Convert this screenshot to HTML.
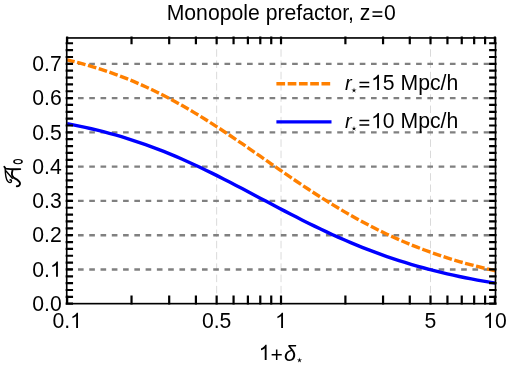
<!DOCTYPE html>
<html><head><meta charset="utf-8"><title>Monopole prefactor</title>
<style>
html,body{margin:0;padding:0;background:#fff;}
body{width:508px;height:366px;overflow:hidden;font-family:"Liberation Sans",sans-serif;}
svg{display:block}
text{font-family:"Liberation Sans",sans-serif;font-size:21.2px;fill:#000}
.it{font-style:italic}
</style></head><body>
<svg width="508" height="366" viewBox="0 0 508 366">
<defs><filter id="g" x="0" y="0" width="508" height="366" filterUnits="userSpaceOnUse"><feOffset dx="0" dy="0"/></filter></defs>
<rect width="508" height="366" fill="#fff"/>
<g filter="url(#g)">

<g stroke="#d6d6d6" stroke-width="0.9" stroke-dasharray="7.5 3.77" fill="none">
<line x1="216.64" y1="37.96" x2="216.64" y2="303.65"/>
<line x1="281.02" y1="37.96" x2="281.02" y2="303.65"/>
<line x1="430.51" y1="37.96" x2="430.51" y2="303.65"/>
</g>
<g stroke="#808080" stroke-width="2.4" stroke-dasharray="5.635 5.635" fill="none">
<line x1="66.72" y1="269.45" x2="495.5" y2="269.45"/>
<line x1="66.72" y1="235.18" x2="495.5" y2="235.18"/>
<line x1="66.72" y1="200.91" x2="495.5" y2="200.91"/>
<line x1="66.72" y1="166.64" x2="495.5" y2="166.64"/>
<line x1="66.72" y1="132.37" x2="495.5" y2="132.37"/>
<line x1="66.72" y1="98.10" x2="495.5" y2="98.10"/>
<line x1="66.72" y1="63.83" x2="495.5" y2="63.83"/>
</g>
<path d="M67.15,59.82 L73.18,61.31 L79.22,62.88 L85.25,64.54 L91.28,66.30 L97.32,68.15 L103.35,70.10 L109.38,72.15 L115.41,74.31 L121.45,76.57 L127.48,78.95 L133.51,81.43 L139.55,84.03 L145.58,86.74 L151.61,89.56 L157.65,92.49 L163.68,95.53 L169.71,98.69 L175.75,101.95 L181.78,105.32 L187.81,108.79 L193.85,112.35 L199.88,116.01 L205.91,119.76 L211.94,123.59 L217.98,127.49 L224.01,131.46 L230.04,135.49 L236.08,139.57 L242.11,143.69 L248.14,147.85 L254.18,152.03 L260.21,156.23 L266.24,160.43 L272.28,164.63 L278.31,168.82 L284.34,172.99 L290.37,177.13 L296.41,181.23 L302.44,185.28 L308.47,189.29 L314.51,193.23 L320.54,197.11 L326.57,200.91 L332.61,204.64 L338.64,208.29 L344.67,211.85 L350.71,215.32 L356.74,218.70 L362.77,221.99 L368.80,225.17 L374.84,228.27 L380.87,231.26 L386.90,234.16 L392.94,236.95 L398.97,239.65 L405.00,242.25 L411.04,244.76 L417.07,247.17 L423.10,249.49 L429.14,251.71 L435.17,253.85 L441.20,255.90 L447.24,257.86 L453.27,259.74 L459.30,261.54 L465.33,263.26 L471.37,264.90 L477.40,266.48 L483.43,267.98 L489.47,269.41 L495.50,270.78" fill="none" stroke="#ff8000" stroke-width="3.4" stroke-dasharray="8.7 2.57" stroke-dashoffset="1" stroke-linejoin="round"/>
<path d="M67.15,123.72 L73.18,124.87 L79.22,126.09 L85.25,127.38 L91.28,128.75 L97.32,130.19 L103.35,131.70 L109.38,133.30 L115.41,134.97 L121.45,136.73 L127.48,138.58 L133.51,140.51 L139.55,142.52 L145.58,144.62 L151.61,146.81 L157.65,149.09 L163.68,151.45 L169.71,153.90 L175.75,156.42 L181.78,159.03 L187.81,161.71 L193.85,164.47 L199.88,167.29 L205.91,170.18 L211.94,173.13 L217.98,176.14 L224.01,179.19 L230.04,182.28 L236.08,185.41 L242.11,188.57 L248.14,191.75 L254.18,194.94 L260.21,198.14 L266.24,201.34 L272.28,204.53 L278.31,207.71 L284.34,210.87 L290.37,214.00 L296.41,217.10 L302.44,220.15 L308.47,223.17 L314.51,226.13 L320.54,229.03 L326.57,231.88 L332.61,234.67 L338.64,237.39 L344.67,240.04 L350.71,242.62 L356.74,245.13 L362.77,247.56 L368.80,249.92 L374.84,252.20 L380.87,254.41 L386.90,256.54 L392.94,258.59 L398.97,260.57 L405.00,262.48 L411.04,264.31 L417.07,266.07 L423.10,267.75 L429.14,269.37 L435.17,270.92 L441.20,272.41 L447.24,273.83 L453.27,275.19 L459.30,276.49 L465.33,277.73 L471.37,278.92 L477.40,280.05 L483.43,281.12 L489.47,282.15 L495.50,283.13" fill="none" stroke="#0000ff" stroke-width="3.4" stroke-linejoin="round"/>
<g stroke="#000" stroke-width="1.65" fill="none">
<rect x="66.72" y="37.96" width="428.78" height="265.69"/>
<path d="M65.65,303.72H73.05M489.1,303.72H496.55M65.65,296.87H73.05M489.1,296.87H496.55M65.65,290.01H73.05M489.1,290.01H496.55M65.65,283.16H73.05M489.1,283.16H496.55M65.65,276.30H73.05M489.1,276.30H496.55M65.65,269.45H73.05M489.1,269.45H496.55M65.65,262.60H73.05M489.1,262.60H496.55M65.65,255.74H73.05M489.1,255.74H496.55M65.65,248.89H73.05M489.1,248.89H496.55M65.65,242.03H73.05M489.1,242.03H496.55M65.65,235.18H73.05M489.1,235.18H496.55M65.65,228.33H73.05M489.1,228.33H496.55M65.65,221.47H73.05M489.1,221.47H496.55M65.65,214.62H73.05M489.1,214.62H496.55M65.65,207.76H73.05M489.1,207.76H496.55M65.65,200.91H73.05M489.1,200.91H496.55M65.65,194.06H73.05M489.1,194.06H496.55M65.65,187.20H73.05M489.1,187.20H496.55M65.65,180.35H73.05M489.1,180.35H496.55M65.65,173.49H73.05M489.1,173.49H496.55M65.65,166.64H73.05M489.1,166.64H496.55M65.65,159.79H73.05M489.1,159.79H496.55M65.65,152.93H73.05M489.1,152.93H496.55M65.65,146.08H73.05M489.1,146.08H496.55M65.65,139.22H73.05M489.1,139.22H496.55M65.65,132.37H73.05M489.1,132.37H496.55M65.65,125.52H73.05M489.1,125.52H496.55M65.65,118.66H73.05M489.1,118.66H496.55M65.65,111.81H73.05M489.1,111.81H496.55M65.65,104.95H73.05M489.1,104.95H496.55M65.65,98.10H73.05M489.1,98.10H496.55M65.65,91.25H73.05M489.1,91.25H496.55M65.65,84.39H73.05M489.1,84.39H496.55M65.65,77.54H73.05M489.1,77.54H496.55M65.65,70.68H73.05M489.1,70.68H496.55M65.65,63.83H73.05M489.1,63.83H496.55M65.65,56.98H73.05M489.1,56.98H496.55M65.65,50.12H73.05M489.1,50.12H496.55M65.65,43.27H73.05M489.1,43.27H496.55M67.15,304.55V295.55M67.15,36.45V44.3M131.53,304.55V295.55M131.53,36.45V44.3M169.19,304.55V295.55M169.19,36.45V44.3M195.91,304.55V295.55M195.91,36.45V44.3M216.64,304.55V295.55M216.64,36.45V44.3M233.57,304.55V295.55M233.57,36.45V44.3M247.89,304.55V295.55M247.89,36.45V44.3M260.29,304.55V295.55M260.29,36.45V44.3M271.23,304.55V295.55M271.23,36.45V44.3M281.02,304.55V295.55M281.02,36.45V44.3M345.40,304.55V295.55M345.40,36.45V44.3M383.06,304.55V295.55M383.06,36.45V44.3M409.78,304.55V295.55M409.78,36.45V44.3M430.51,304.55V295.55M430.51,36.45V44.3M447.44,304.55V295.55M447.44,36.45V44.3M461.76,304.55V295.55M461.76,36.45V44.3M474.16,304.55V295.55M474.16,36.45V44.3M485.10,304.55V295.55M485.10,36.45V44.3M494.89,304.55V295.55M494.89,36.45V44.3" stroke-width="2.2"/>
</g>
<text x="32.33" y="311.02" xml:space="preserve">0.0</text>
<text x="32.33" y="276.75" xml:space="preserve">0.</text><path d="M763,0H583V1147Q518,1085 412.5,1023Q307,961 223,930V1104Q374,1175 487,1276Q600,1377 647,1472H763Z" transform="translate(50.01,276.75) scale(0.01035,-0.01035)" fill="#000"/>
<text x="32.33" y="242.48" xml:space="preserve">0.2</text>
<text x="32.33" y="208.21" xml:space="preserve">0.3</text>
<text x="32.33" y="173.94" xml:space="preserve">0.4</text>
<text x="32.33" y="139.67" xml:space="preserve">0.5</text>
<text x="32.33" y="105.40" xml:space="preserve">0.6</text>
<text x="32.33" y="71.13" xml:space="preserve">0.7</text>
<text x="52.41" y="327.90" xml:space="preserve">0.</text><path d="M763,0H583V1147Q518,1085 412.5,1023Q307,961 223,930V1104Q374,1175 487,1276Q600,1377 647,1472H763Z" transform="translate(70.10,327.90) scale(0.01035,-0.01035)" fill="#000"/>
<text x="201.90" y="327.90" xml:space="preserve">0.5</text>
<path d="M763,0H583V1147Q518,1085 412.5,1023Q307,961 223,930V1104Q374,1175 487,1276Q600,1377 647,1472H763Z" transform="translate(275.12,327.90) scale(0.01035,-0.01035)" fill="#000"/>
<text x="424.61" y="327.90" xml:space="preserve">5</text>
<path d="M763,0H583V1147Q518,1085 412.5,1023Q307,961 223,930V1104Q374,1175 487,1276Q600,1377 647,1472H763Z" transform="translate(483.10,327.90) scale(0.01035,-0.01035)" fill="#000"/><text x="494.89" y="327.90" xml:space="preserve">0</text>
<text x="166.69" y="19.50" xml:space="preserve">Monopole prefactor, z</text><path d="M372.49,11.90h9.8M372.49,16.20h9.8" stroke="#000" stroke-width="1.5" fill="none"/><text x="384.12" y="19.50" xml:space="preserve">0</text>
<path d="M763,0H583V1147Q518,1085 412.5,1023Q307,961 223,930V1104Q374,1175 487,1276Q600,1377 647,1472H763Z" transform="translate(258.70,360.00) scale(0.01035,-0.01035)" fill="#000"/><path d="M271.63,354.65h10.1M276.68,349.40v10.5" stroke="#000" stroke-width="1.5" fill="none"/>
<text x="284.02" y="360.5" class="it" style="font-size:21.7px">δ</text>
<polygon points="299.50,357.50 300.00,359.61 302.16,359.43 300.31,360.56 301.15,362.57 299.50,361.15 297.85,362.57 298.69,360.56 296.84,359.43 299.00,359.61" fill="#000"/>
<line x1="276.4" y1="83.7" x2="331.2" y2="83.7" stroke="#ff8000" stroke-width="3.4" stroke-dasharray="8.7 2.57"/>
<line x1="276.4" y1="121.9" x2="331.5" y2="121.9" stroke="#0000ff" stroke-width="3.4"/>
<text x="345.0" y="90" class="it" style="font-size:20px">r</text>
<path d="M359.45,82.40h9.8M359.45,86.70h9.8" stroke="#000" stroke-width="1.5" fill="none"/><path d="M763,0H583V1147Q518,1085 412.5,1023Q307,961 223,930V1104Q374,1175 487,1276Q600,1377 647,1472H763Z" transform="translate(371.08,90.00) scale(0.01035,-0.01035)" fill="#000"/><text x="382.87" y="90.00" xml:space="preserve">5 Mpc/h</text>
<text x="345.0" y="128.2" class="it" style="font-size:20px">r</text>
<path d="M359.45,120.60h9.8M359.45,124.90h9.8" stroke="#000" stroke-width="1.5" fill="none"/><path d="M763,0H583V1147Q518,1085 412.5,1023Q307,961 223,930V1104Q374,1175 487,1276Q600,1377 647,1472H763Z" transform="translate(371.08,128.20) scale(0.01035,-0.01035)" fill="#000"/><text x="382.87" y="128.20" xml:space="preserve">0 Mpc/h</text>
<polygon points="354.00,87.60 354.50,89.71 356.66,89.53 354.81,90.66 355.65,92.67 354.00,91.25 352.35,92.67 353.19,90.66 351.34,89.53 353.50,89.71" fill="#000"/>
<polygon points="354.00,125.80 354.50,127.91 356.66,127.73 354.81,128.86 355.65,130.87 354.00,129.45 352.35,130.87 353.19,128.86 351.34,127.73 353.50,127.91" fill="#000"/>
<g fill="none" stroke="#000" stroke-linecap="round" stroke-linejoin="round">
<path fill="#000" stroke="none" fill-rule="evenodd" d="M13.15,161.6a4.85,2.65 0 1,0 9.7,0a4.85,2.65 0 1,0 -9.7,0zM14.85,161.6a3.15,1.55 0 1,0 6.3,0a3.15,1.55 0 1,0 -6.3,0z"/>
<path d="M4.3,166.8 L5.6,168.6 C10,169.2 15,169.4 20.3,169.1" stroke-width="1.8"/>
<path d="M5.2,169 C5.3,174 6.0,179 7.6,181.2 C9.0,183.2 11.4,183.0 11.5,181.0 C11.5,179.8 10.6,179.3 10.0,180.0" stroke-width="1.4"/>
<path d="M6.0,171.0 L12.3,178.2" stroke-width="1.4"/>
<path d="M12.5,170.2 C11.8,172.6 11.6,176.1 13.7,177.6 C16.2,179.2 19.6,180.6 20.0,183.1 C20.2,185.2 18.6,186.2 16.8,186.2" stroke-width="1.9"/>
</g>
</g></svg></body></html>
